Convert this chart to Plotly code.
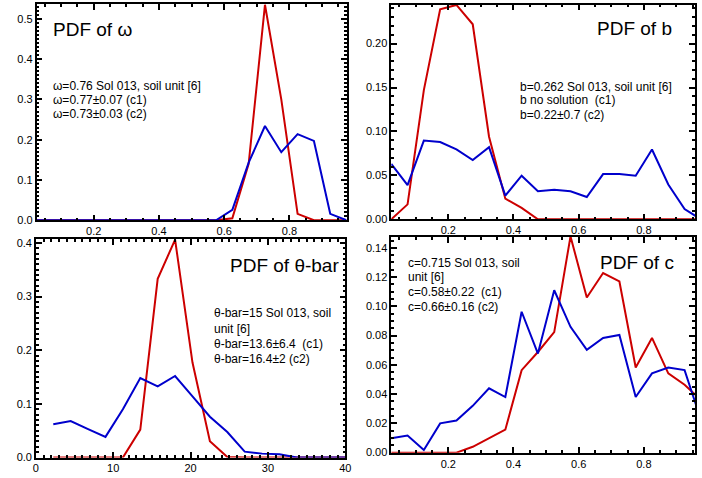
import plotly.graph_objects as go

# ---- data ----
bins01 = [0.025, 0.075, 0.125, 0.175, 0.225, 0.275, 0.325, 0.375, 0.425, 0.475,
          0.525, 0.575, 0.625, 0.675, 0.725, 0.775, 0.825, 0.875, 0.925, 0.975]
theta_bins = [2.25, 4.5, 6.75, 9.0, 11.25, 13.5, 15.75, 18.0, 20.25, 22.5,
              24.75, 27.0, 29.25, 31.5, 33.75, 36.0, 38.25, 40.5]

omega_red = [0, 0, 0, 0, 0, 0, 0, 0, 0, 0, 0, 0, 0.005, 0.14, 0.535, 0.30, 0.016, 0, 0, 0]
omega_blue = [0, 0, 0, 0, 0, 0, 0, 0, 0, 0, 0, 0, 0.026, 0.143, 0.234, 0.169, 0.214, 0.197, 0.016, 0]

b_red = [0, 0.017, 0.147, 0.239, 0.244, 0.222, 0.094, 0.0235, 0.013, 0,
         0, 0, 0, 0, 0, 0, 0, 0, 0, 0]
b_blue = [0.063, 0.039, 0.0896, 0.088, 0.0795, 0.0675, 0.082, 0.027, 0.0496, 0.032,
          0.0336, 0.032, 0.0254, 0.0515, 0.0515, 0.0496, 0.0795, 0.0396, 0.0116, 0.0]

theta_red = [0, 0, 0, 0, 0, 0.052, 0.333, 0.406, 0.177, 0.0305,
             0.001, 0, 0, 0, 0, 0, 0, 0]
theta_blue = [0.062, 0.068, 0.053, 0.0385, 0.09, 0.148, 0.1325, 0.152, 0.114, 0.076,
              0.0476, 0.011, 0.0073, 0.006, 0.0, 0, 0, 0]

c_red = [0, 0, 0, 0, 0, 0.004, 0.0099, 0.0157, 0.0564, 0.0688,
         0.0824, 0.1478, 0.106, 0.1228, 0.117, 0.0582, 0.0784, 0.0542, 0.0464, 0.036]
c_blue = [0.0099, 0.0117, 0.0018, 0.020, 0.022, 0.032, 0.044, 0.038, 0.0963, 0.0677,
          0.111, 0.086, 0.0703, 0.0784, 0.0804, 0.038, 0.0542, 0.0582, 0.0564, 0.0225]

titles = ["PDF of ω", "PDF of b", "PDF of θ-bar", "PDF of c"]
notes = [
    ["ω=0.76 Sol 013, soil unit [6]", "ω=0.77±0.07 (c1)", "ω=0.73±0.03 (c2)"],
    ["b=0.262 Sol 013, soil unit [6]", "b no solution  (c1)", "b=0.22±0.7 (c2)"],
    ["θ-bar=15 Sol 013, soil", "unit [6]", "θ-bar=13.6±6.4  (c1)", "θ-bar=16.4±2 (c2)"],
    ["c=0.715 Sol 013, soil", "unit [6]", "c=0.58±0.22  (c1)", "c=0.66±0.16 (c2)"],
]

RED = "rgb(204,0,0)"
BLUE = "rgb(0,0,204)"
W, H = 702, 478
FONT = "Liberation Sans, Arial, Helvetica, sans-serif"

fig = go.Figure()

panels = [
    (bins01, omega_red, omega_blue, "x", "y"),
    (bins01, b_red, b_blue, "x2", "y2"),
    (theta_bins, theta_red, theta_blue, "x3", "y3"),
    (bins01, c_red, c_blue, "x4", "y4"),
]
for xs, r, b, xa, ya in panels:
    fig.add_trace(go.Scatter(x=xs, y=r, mode="lines", line=dict(color=RED, width=2),
                             xaxis=xa, yaxis=ya, showlegend=False, hoverinfo="skip"))
    fig.add_trace(go.Scatter(x=xs, y=b, mode="lines", line=dict(color=BLUE, width=2),
                             xaxis=xa, yaxis=ya, showlegend=False, hoverinfo="skip"))


def dom_x(a, b):
    return [a / W, b / W]


def dom_y(top, bottom):
    return [1 - bottom / H, 1 - top / H]


def ax(domain, rng, dtick, minor, fmt, anchor):
    return dict(domain=domain, range=rng, dtick=dtick, tick0=0, tickformat=fmt,
                anchor=anchor, showgrid=False, zeroline=False,
                showline=True, linecolor="#000000", linewidth=1.5, mirror="allticks",
                ticks="inside", ticklen=6, tickwidth=1.5, tickcolor="#000000",
                tickfont=dict(family=FONT, size=11, color="#000000"),
                minor=dict(dtick=minor, ticks="inside", ticklen=3, tickwidth=1.5,
                           tickcolor="#000000"))


fig.update_layout(
    template="simple_white",
    width=W, height=H, margin=dict(l=0, r=0, t=0, b=0),
    plot_bgcolor="white", paper_bgcolor="white",
    xaxis=ax(dom_x(34, 348), [0.025, 0.975], 0.2, 0.05, ".1f", "y"),
    yaxis=ax(dom_y(2, 222), [0, 0.537], 0.1, 0.01, ".1f", "x"),
    xaxis2=ax(dom_x(393.3, 701), [0.025, 0.957], 0.2, 0.05, ".1f", "y2"),
    yaxis2=ax(dom_y(2.7, 221), [0, 0.2443], 0.05, 0.01, ".2f", "x2"),
    xaxis3=ax(dom_x(33.3, 346.7), [0, 40], 10, 1, "d", "y3"),
    yaxis3=ax(dom_y(241, 463.3), [0, 0.4073], 0.1, 0.01, ".1f", "x3"),
    xaxis4=ax(dom_x(393.3, 701), [0.025, 0.957], 0.2, 0.05, ".1f", "y4"),
    yaxis4=ax(dom_y(239, 458.3), [0, 0.1474], 0.02, 0.005, ".2f", "x4"),
)

title_pos = [(49, 28, "left"), (680, 27, "right"), (342, 268, "right"), (682, 265, "right")]
for t, (x, y, anc) in zip(titles, title_pos):
    fig.add_annotation(text=t, x=x / W, y=1 - y / H, xref="paper", yref="paper",
                       xanchor=anc, yanchor="middle", showarrow=False,
                       font=dict(family=FONT, size=19, color="black"))

note_pos = [(49, [85, 99.5, 114.3]), (522, [86, 100, 115]),
            (212, [316.7, 332.3, 348.3, 363.3]), (408.5, [265, 279.5, 294.5, 310])]
for lines, (x, ys) in zip(notes, note_pos):
    for line, y in zip(lines, ys):
        fig.add_annotation(text=line, x=x / W, y=1 - y / H, xref="paper", yref="paper",
                           xanchor="left", yanchor="middle", showarrow=False,
                           font=dict(family=FONT, size=12, color="black"))

fig.write_html("out.html", config={"displayModeBar": False},
               post_script="document.body.style.margin='0px';")
